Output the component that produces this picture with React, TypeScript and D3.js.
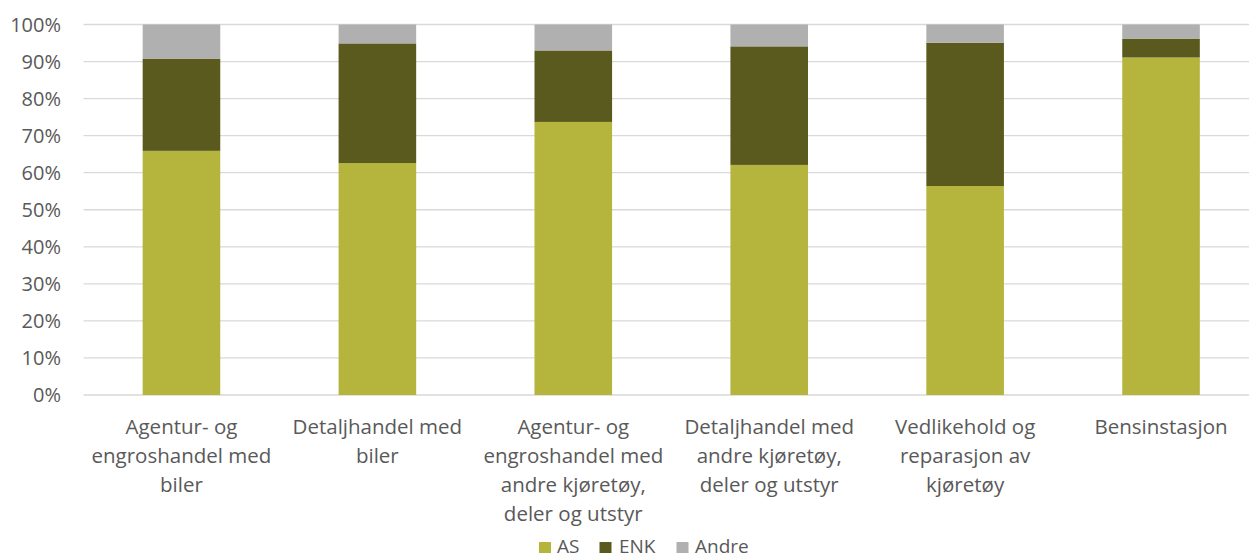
import React from "react";
import * as d3 from "d3";

const categories: string[][] = [
  ["Agentur- og", "engroshandel med", "biler"],
  ["Detaljhandel med", "biler"],
  ["Agentur- og", "engroshandel med", "andre kjøretøy,", "deler og utstyr"],
  ["Detaljhandel med", "andre kjøretøy,", "deler og utstyr"],
  ["Vedlikehold og", "reparasjon av", "kjøretøy"],
  ["Bensinstasjon"],
];
const seriesNames = ["AS", "ENK", "Andre"];
const asValues = [65.9, 62.6, 73.7, 62.1, 56.4, 91.1];
const enkValues = [24.9, 32.3, 19.3, 32.0, 38.7, 5.1];
const andreValues = [9.2, 5.1, 7.0, 5.9, 4.9, 3.8];
const yTicks = [0, 10, 20, 30, 40, 50, 60, 70, 80, 90, 100];
const colors = ["#B5B43D", "#5B5A1E", "#B0B0B0"];

const W = 1249;
const H = 558;
const FONT = "'Open Sans', sans-serif";
const TEXT = "#595959";

export default function App() {
  const keys = categories.map((c) => c.join(" "));
  const x = d3
    .scaleBand<string>()
    .domain(keys)
    .range([83.5, 1259])
    .paddingInner(0.604)
    .paddingOuter(0.302);
  const y = d3.scaleLinear().domain([0, 100]).range([395, 24.5]);

  const rows = keys.map((k, i) => ({
    key: k,
    AS: asValues[i],
    ENK: enkValues[i],
    Andre: andreValues[i],
  }));
  const stacked = d3.stack<any>().keys(seriesNames)(rows);

  const legendItems = [
    { name: "AS", sx: 539, tx: 557 },
    { name: "ENK", sx: 599.5, tx: 619 },
    { name: "Andre", sx: 676.5, tx: 695 },
  ];

  return (
    <svg
      width={W}
      height={H}
      style={{ position: "absolute", left: 0, top: 0, background: "#fff" }}
      fontFamily={FONT}
    >
      {yTicks.map((t) => (
        <g key={t}>
          <line
            x1={83.5}
            x2={W}
            y1={y(t)}
            y2={y(t)}
            stroke="#D9D9D9"
            strokeWidth={1.3}
          />
          <text
            x={61}
            y={y(t)}
            dy="0.35em"
            textAnchor="end"
            fontSize={20}
            fill={TEXT}
          >
            {t}%
          </text>
        </g>
      ))}
      {stacked.map((s, si) => (
        <g key={s.key} fill={colors[si]}>
          {s.map((d, i) => (
            <rect
              key={i}
              x={x(keys[i])}
              width={x.bandwidth()}
              y={y(d[1])}
              height={y(d[0]) - y(d[1])}
            />
          ))}
        </g>
      ))}
      {categories.map((lines, i) => (
        <text key={i} textAnchor="middle" fontSize={20.5} fill={TEXT}>
          {lines.map((ln, j) => (
            <tspan key={j} x={x(keys[i])! + x.bandwidth() / 2} y={434 + j * 29}>
              {ln}
            </tspan>
          ))}
        </text>
      ))}
      {legendItems.map((it, i) => (
        <g key={it.name}>
          <rect x={it.sx} y={542} width={12} height={11} fill={colors[i]} />
          <text x={it.tx} y={553} fontSize={19} fill={TEXT}>
            {it.name}
          </text>
        </g>
      ))}
    </svg>
  );
}
